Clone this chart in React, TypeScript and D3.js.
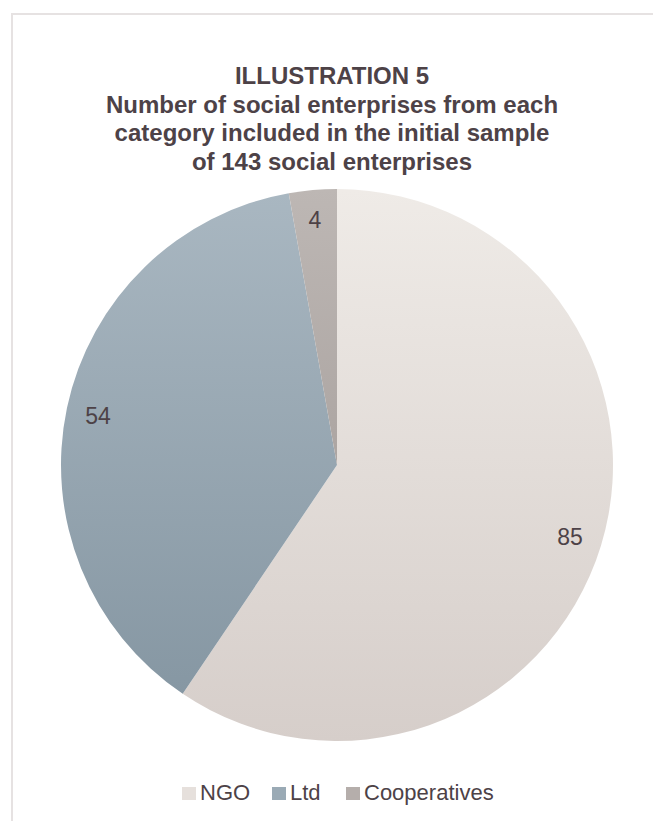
import React from "react";
import * as d3 from "d3";

const categories = ["NGO", "Ltd", "Cooperatives"];
const values = [85, 54, 4];
const titleLines = [
  "ILLUSTRATION 5",
  "Number of social enterprises from each",
  "category included in the initial sample",
  "of 143 social enterprises",
];
const gradTop = ["#efebe7", "#a9b7c1", "#bdb7b4"];
const gradBottom = ["#d6ceca", "#8697a3", "#aca5a2"];
const legendColors = ["#e6e0dc", "#9aaab5", "#b5aeab"];

export default function App() {
  const W = 653, H = 821;
  const cx = 337, cy = 465, r = 276;
  const pie = d3.pie<number>().sort(null).value((d) => d);
  const arcs = pie(values);
  const arc = d3.arc<d3.PieArcDatum<number>>().innerRadius(0).outerRadius(r);
  const textColor = "#4d4247";
  const font = "'Liberation Sans', Arial, sans-serif";

  const legendY = 800;
  const legendItems = [182, 272, 346];

  const labelPos = [
    [570, 537],
    [98, 416],
    [315, 220],
  ];

  return (
    <svg width={W} height={H} style={{ position: "absolute", left: 0, top: 0 }}>
      <defs>
        {categories.map((c, i) => (
          <linearGradient key={c} id={`g${i}`} x1="0" y1="0" x2="0" y2="1" gradientUnits="objectBoundingBox">
            <stop offset="0%" stopColor={gradTop[i]} />
            <stop offset="100%" stopColor={gradBottom[i]} />
          </linearGradient>
        ))}
      </defs>
      <rect x={0} y={0} width={W} height={H} fill="#ffffff" />
      <path d={`M12,${H} L12,14 L${W},14`} fill="none" stroke="#e6e2e2" strokeWidth={2} />
      {titleLines.map((t, i) => (
        <text
          key={i}
          x={332}
          y={84 + i * 28.7}
          textAnchor="middle"
          fontFamily={font}
          fontWeight="bold"
          fontSize={24}
          fill={textColor}
        >
          {t}
        </text>
      ))}
      <g transform={`translate(${cx},${cy})`}>
        {arcs.map((a, i) => (
          <path key={i} d={arc(a) || ""} fill={`url(#g${i})`} />
        ))}
      </g>
      {arcs.map((a, i) => (
        <text
          key={i}
          x={labelPos[i][0]}
          y={labelPos[i][1]}
          textAnchor="middle"
          dominantBaseline="central"
          fontFamily={font}
          fontSize={23}
          fill={textColor}
        >
          {values[i]}
        </text>
      ))}
      {categories.map((c, i) => (
        <g key={c}>
          <rect x={legendItems[i]} y={legendY - 13} width={14} height={13} fill={legendColors[i]} />
          <text
            x={legendItems[i] + 18}
            y={legendY}
            fontFamily={font}
            fontSize={22}
            fill={textColor}
          >
            {c}
          </text>
        </g>
      ))}
    </svg>
  );
}
